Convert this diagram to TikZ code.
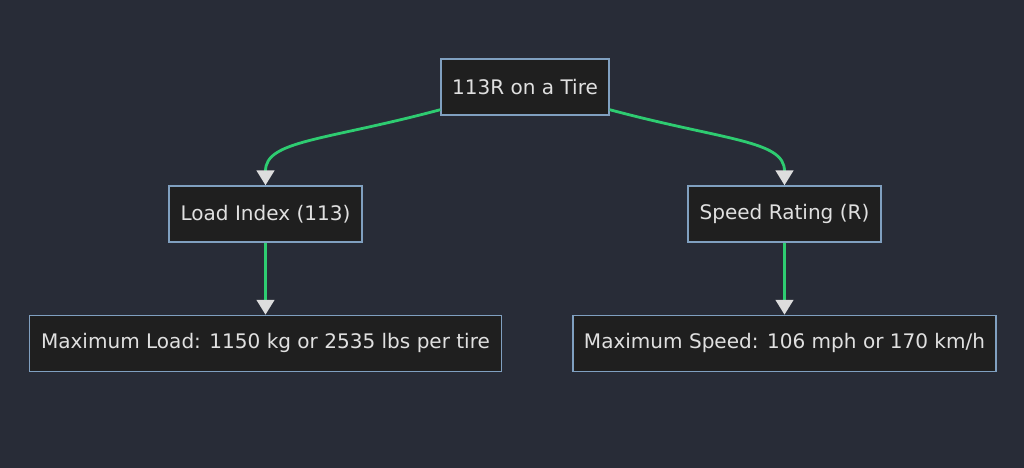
\documentclass[tikz,border=0pt]{standalone}
\usepackage{fontspec}
\setmainfont{DejaVu Sans}
\usepackage{xcolor}
\usepackage{tikz}
\usetikzlibrary{positioning}
\usetikzlibrary{arrows.meta}

\definecolor{bgcol}{RGB}{40,44,55}
\definecolor{boxfill}{RGB}{31,31,31}
\definecolor{boxline}{RGB}{128,160,192}
\definecolor{flowgreen}{RGB}{46,204,113}
\definecolor{tipgray}{RGB}{221,221,221}
\definecolor{txtcol}{RGB}{224,224,224}

\begin{document}
\begin{tikzpicture}[
    box/.style={draw=boxline, fill=boxfill, line width=0.8pt, text=txtcol,
                minimum height=1.12cm, inner sep=0pt,
                font=\fontsize{11.4}{13}\selectfont},
    flow/.style={draw=flowgreen, line width=1.6pt,
                 -{Triangle[width=10pt, length=8.5pt, color=tipgray, fill=tipgray]}}]
  %\draw [help lines, dotted] (0,0) grid (20.48,-9.36);
  \fill[bgcol] (0,0) rectangle (20.48,-9.36);
  \useasboundingbox (0,0) rectangle (20.48,-9.36);

  \node[box, minimum width=3.36cm](Top)   at (10.5,-1.74) {113R on a Tire};
  \node[box, minimum width=3.86cm](Load)  at ([xshift=-5.19cm, yshift=-2.54cm] Top) {Load Index (113)};
  \node[box, minimum width=3.86cm](Speed) at ([xshift= 5.19cm, yshift=-2.54cm] Top) {Speed Rating (R)};
  \node[box, minimum width=9.44cm](MaxLoad)  [below=1.44cm of Load]  {Maximum Load: 1150 kg or 2535 lbs per tire};
  \node[box, minimum width=8.46cm](MaxSpeed) [below=1.44cm of Speed] {Maximum Speed: 106 mph or 170 km/h};

  \draw[flow] (Top.195) .. controls +(195:2.4) and +(90:0.9) .. (Load.north);
  \draw[flow] (Top.345) .. controls +(345:2.4) and +(90:0.9) .. (Speed.north);
  \foreach \x/\y in {Load/MaxLoad, Speed/MaxSpeed} {
    \draw[flow] (\x) -- (\y);
  }
\end{tikzpicture}
\end{document}
